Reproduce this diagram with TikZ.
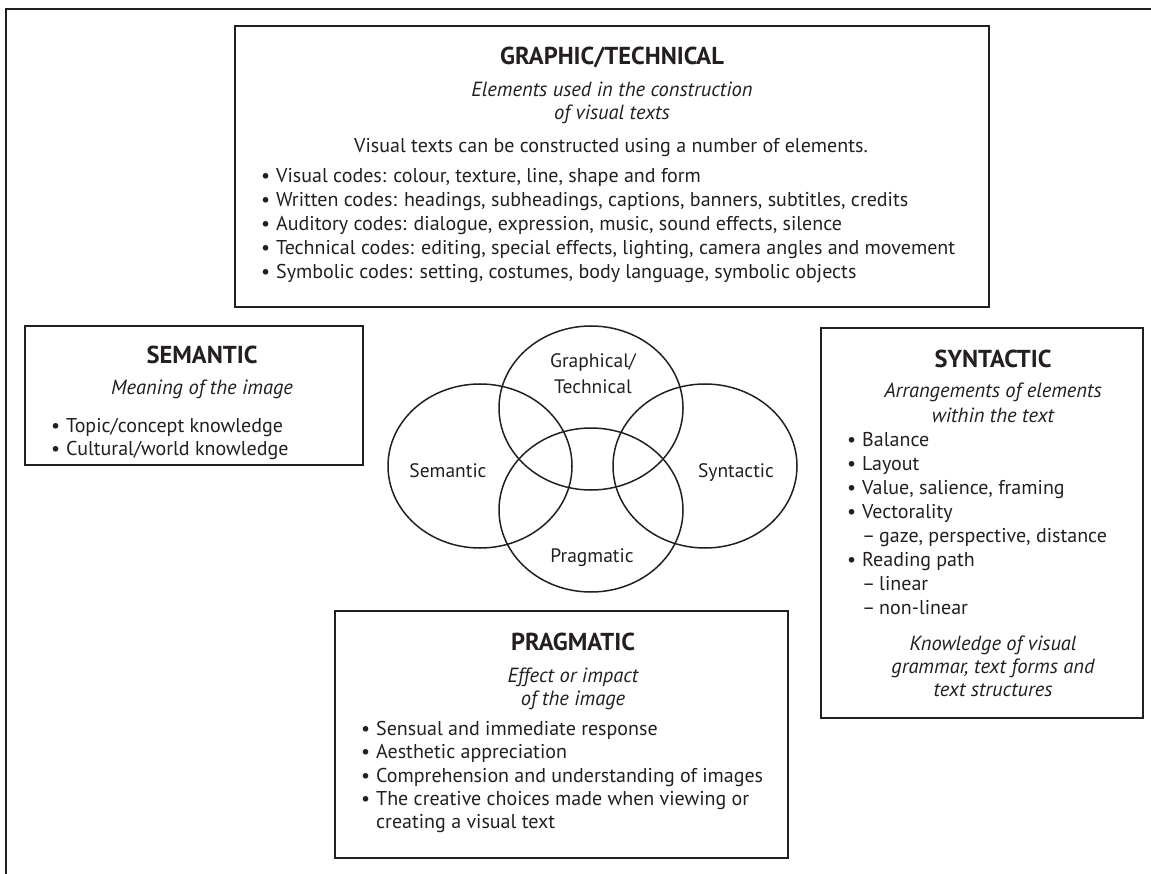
\documentclass[tikz,border=0pt]{standalone}
\usepackage{fontspec}
\setmainfont{PT Sans}
\usetikzlibrary{shapes.geometric}
\definecolor{ink}{HTML}{231F20}
\begin{document}
\begin{tikzpicture}[x=1pt,y=-1pt,
  box/.style={draw=ink,line width=1.8pt,inner sep=0pt,rectangle},
  ring/.style={draw=ink,line width=1.5pt,ellipse,inner sep=0pt,minimum width=184pt,minimum height=164pt},
  ttl/.style={font=\fontsize{24.5}{28}\selectfont\bfseries,text=ink,anchor=base,inner sep=0pt},
  sub/.style={font=\fontsize{20.5}{24}\selectfont\itshape,text=ink,anchor=base,inner sep=0pt},
  txt/.style={font=\fontsize{20}{24}\selectfont,text=ink,anchor=base west,inner sep=0pt},
  ctxt/.style={font=\fontsize{20}{24}\selectfont,text=ink,anchor=base,inner sep=0pt},
  vlab/.style={font=\fontsize{19.5}{24}\selectfont,text=ink,anchor=base,inner sep=0pt}]
\newcommand{\bul}{\makebox[15pt][l]{\textbullet}}
\newcommand{\dsh}{\makebox[17pt][l]{–}}
\useasboundingbox (0,0) rectangle (1151,874);
% outer frame
\coordinate (fb) at (6,874);
\coordinate (fc) at (6,9);
\coordinate (fr) at (1151,9);
\draw[ink,line width=2.2pt] (fb) -- (fc) -- (fr);
% boxes
\node[box,minimum width=754pt,minimum height=281pt] (gt) at (612,166.5) {};
\node[box,minimum width=338pt,minimum height=139pt] (sem) at (194,395.5) {};
\node[box,minimum width=322pt,minimum height=390pt] (syn) at (982,523) {};
\node[box,minimum width=453pt,minimum height=247pt] (prag) at (561.5,734.5) {};
% venn
\node[ring] (cg) at (591,408) {};
\node[ring] (cs) at (480,466) {};
\node[ring] (cy) at (705,466) {};
\node[ring] (cp) at (591,510) {};
\node[vlab] (lg1) at (593,367) {Graphical/};
\node[vlab] (lg2) at (593,393) {Technical};
\node[vlab] (ls) at (448,477) {Semantic};
\node[vlab] (ly) at (736,477) {Syntactic};
\node[vlab] (lp) at (592,562) {Pragmatic};
% graphic/technical
\node[ttl] (gtt) at (612,65) {GRAPHIC/TECHNICAL};
\node[sub] (gts1) at (612,97) {Elements used in the construction};
\node[sub] (gts2) at (612,120) {of visual texts};
\node[ctxt] (gti) at (611,153) {Visual texts can be constructed using a number of elements.};
\node[txt] (gb1) at (261,183) {\bul Visual codes: colour, texture, line, shape and form};
\node[txt] (gb2) at (261,207) {\bul Written codes: headings, subheadings, captions, banners, subtitles, credits};
\node[txt] (gb3) at (261,231) {\bul Auditory codes: dialogue, expression, music, sound effects, silence};
\node[txt] (gb4) at (261,255) {\bul Technical codes: editing, special effects, lighting, camera angles and movement};
\node[txt] (gb5) at (261,279) {\bul Symbolic codes: setting, costumes, body language, symbolic objects};
% semantic
\node[ttl] (semt) at (202,363) {SEMANTIC};
\node[sub] (sems) at (202,395) {Meaning of the image};
\node[txt] (semb1) at (51,432) {\bul Topic/concept knowledge};
\node[txt] (semb2) at (51,455) {\bul Cultural/world knowledge};
% syntactic
\node[ttl] (synt) at (993,367) {SYNTACTIC};
\node[sub] (syns1) at (993,398) {Arrangements of elements};
\node[sub] (syns2) at (993,422) {within the text};
\node[txt] (synb1) at (847,446) {\bul Balance};
\node[txt] (synb2) at (847,470) {\bul Layout};
\node[txt] (synb3) at (847,494) {\bul Value, salience, framing};
\node[txt] (synb4) at (847,518) {\bul Vectorality};
\node[txt] (synd1) at (862,542) {\dsh gaze, perspective, distance};
\node[txt] (synb5) at (847,566) {\bul Reading path};
\node[txt] (synd2) at (862,590) {\dsh linear};
\node[txt] (synd3) at (862,614) {\dsh non-linear};
\node[sub] (synk1) at (993,650) {Knowledge of visual};
\node[sub] (synk2) at (993,673) {grammar, text forms and};
\node[sub] (synk3) at (993,696) {text structures};
% pragmatic
\node[ttl] (pragt) at (573,650) {PRAGMATIC};
\node[sub] (prags1) at (573,682) {Effect or impact};
\node[sub] (prags2) at (573,705) {of the image};
\node[txt] (pragb1) at (361,735) {\bul Sensual and immediate response};
\node[txt] (pragb2) at (361,758) {\bul Aesthetic appreciation};
\node[txt] (pragb3) at (361,782) {\bul Comprehension and understanding of images};
\node[txt] (pragb4) at (361,805) {\bul The creative choices made when viewing or};
\node[txt] (pragb5) at (376,828) {creating a visual text};
\end{tikzpicture}
\end{document}
